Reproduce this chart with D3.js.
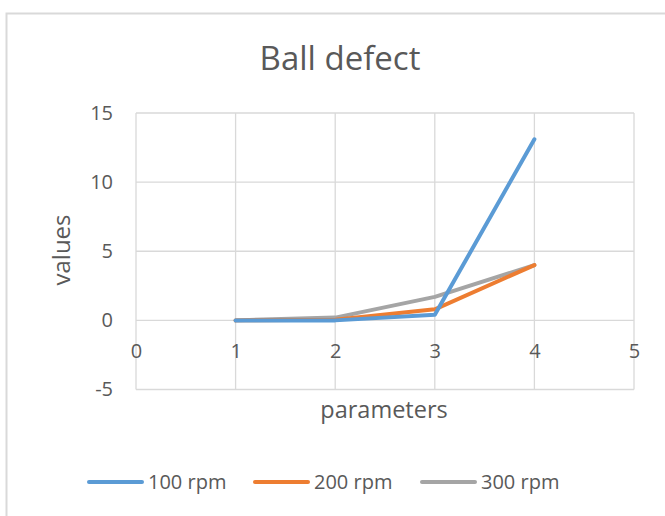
<!DOCTYPE html>
<html>
<head>
<meta charset="utf-8">
<script src="https://cdn.jsdelivr.net/npm/d3@7"></script>
<style>
  html, body { margin: 0; padding: 0; background: #fff; }
  svg { display: block; }
  text { font-family: "Open Sans", sans-serif; fill: #595959; }
</style>
</head>
<body>
<svg id="chart" width="665" height="516"></svg>
<script>
// Data
const parameters = [1, 2, 3, 4];
const seriesNames = ["100 rpm", "200 rpm", "300 rpm"];
const rpm100 = [0, 0, 0.4, 13.1];
const rpm200 = [0, 0.05, 0.8, 4];
const rpm300 = [0, 0.2, 1.7, 4];
const xTicks = [0, 1, 2, 3, 4, 5];
const yTicks = [-5, 0, 5, 10, 15];
const colors = ["#5B9BD5", "#ED7D31", "#A5A5A5"];

const series = seriesNames.map((name, i) => ({
  name,
  color: colors[i],
  values: [rpm100, rpm200, rpm300][i].map((v, j) => ({ x: parameters[j], y: v }))
}));

const FONT = "'Open Sans', sans-serif";
const svg = d3.select("#chart");

// Chart frame
svg.append("rect")
  .attr("x", 6.5).attr("y", 13.5)
  .attr("width", 700).attr("height", 540)
  .attr("fill", "#fff")
  .attr("stroke", "#d9d9d9").attr("stroke-width", 2);

const plot = { left: 136, right: 634, top: 113, bottom: 389.5 };

const x = d3.scaleLinear().domain([0, 5]).range([plot.left, plot.right]);
const y = d3.scaleLinear().domain([-5, 15]).range([plot.bottom, plot.top]);

// Gridlines
const grid = svg.append("g").attr("stroke", "#d9d9d9").attr("stroke-width", 1.3);
xTicks.forEach(t => grid.append("line")
  .attr("x1", x(t)).attr("x2", x(t)).attr("y1", y(15)).attr("y2", y(-5)));
yTicks.forEach(t => grid.append("line")
  .attr("x1", x(0)).attr("x2", x(5)).attr("y1", y(t)).attr("y2", y(t)));

// Y axis labels
const yAxis = d3.axisLeft(y).tickValues(yTicks).tickSize(0).tickPadding(23)
  .tickFormat(d => String(d));
svg.append("g")
  .attr("transform", `translate(${x(0)},0)`)
  .call(yAxis)
  .call(g => g.select(".domain").remove())
  .call(g => g.selectAll("text")
    .attr("font-size", 20).attr("fill", "#595959")
    .style("font-family", FONT));

// X axis labels sit just below the zero line
const xAxis = d3.axisBottom(x).tickValues(xTicks).tickSize(0).tickPadding(38)
  .tickFormat(d => String(d));
svg.append("g")
  .attr("transform", `translate(0,${y(0)})`)
  .call(xAxis)
  .call(g => g.select(".domain").remove())
  .call(g => g.selectAll("text")
    .attr("font-size", 20).attr("fill", "#595959")
    .attr("dy", "0")
    .style("font-family", FONT));

// Lines
const line = d3.line().x(d => x(d.x)).y(d => y(d.y));
svg.append("g").selectAll("path")
  .data(series.slice().reverse())
  .join("path")
  .attr("d", d => line(d.values))
  .attr("fill", "none")
  .attr("stroke", d => d.color)
  .attr("stroke-width", 4)
  .attr("stroke-linejoin", "round")
  .attr("stroke-linecap", "round");

// Title
svg.append("text")
  .attr("x", 340).attr("y", 70)
  .attr("text-anchor", "middle")
  .attr("font-size", 33)
  .text("Ball defect");

// Axis titles
svg.append("text")
  .attr("x", 384).attr("y", 418)
  .attr("text-anchor", "middle")
  .attr("font-size", 23.5)
  .text("parameters");

svg.append("text")
  .attr("transform", "translate(70,250) rotate(-90)")
  .attr("text-anchor", "middle")
  .attr("font-size", 24)
  .text("values");

// Legend
const legendX = [89, 255, 422];
const legend = svg.append("g");
series.forEach((s, i) => {
  legend.append("line")
    .attr("x1", legendX[i]).attr("x2", legendX[i] + 53)
    .attr("y1", 482).attr("y2", 482)
    .attr("stroke", s.color).attr("stroke-width", 4)
    .attr("stroke-linecap", "round");
  legend.append("text")
    .attr("x", legendX[i] + 59).attr("y", 489)
    .attr("font-size", 20)
    .text(s.name);
});
</script>
</body>
</html>
